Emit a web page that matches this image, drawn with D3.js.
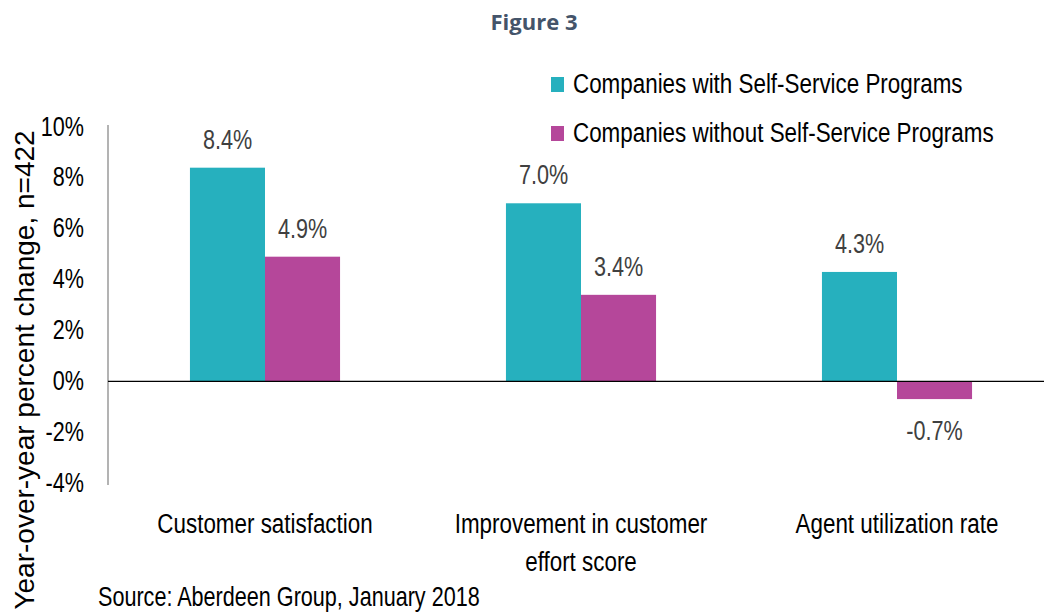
<!DOCTYPE html>
<html>
<head>
<meta charset="utf-8">
<script src="https://d3js.org/d3.v7.min.js"></script>
<style>
  body { margin: 0; background: #fff; }
  text { font-family: "Liberation Sans", Arial, sans-serif; }
</style>
</head>
<body>
<script>
var categories = ["Customer satisfaction", "Improvement in customer\neffort score", "Agent utilization rate"];
var seriesNames = ["Companies with Self-Service Programs", "Companies without Self-Service Programs"];
var withSS = [8.4, 7.0, 4.3];
var withoutSS = [4.9, 3.4, -0.7];
var yTicks = [10, 8, 6, 4, 2, 0, -2, -4];
var colors = ["#26b0be", "#b5479a"];

var W = 1044, H = 612;
var NARROW = "scale(0.8,1)";   // fake Arial Narrow
var svg = d3.select("body").append("svg").attr("width", W).attr("height", H);

var x0 = d3.scaleBand().domain(categories).range([107, 1055]).paddingInner(0.525).paddingOuter(0.2625);
var x1 = d3.scaleBand().domain([0, 1]).range([0, x0.bandwidth()]);
var y = d3.scaleLinear().domain([-4, 10]).range([483, 127]);

function narrowText(parent, x, yy, size, anchor, str, fill) {
  var g = parent.append("g").attr("transform", "translate(" + x + "," + yy + ")");
  return g.append("text").attr("transform", NARROW).attr("text-anchor", anchor || "start")
    .style("font-size", size + "px").attr("fill", fill || "#000").text(str);
}

// title
svg.append("text").attr("x", 534).attr("y", 30).attr("text-anchor", "middle")
  .style("font-family", "'Open Sans', sans-serif").style("font-weight", "bold")
  .style("font-size", "22px").attr("fill", "#44546a").text("Figure 3");

// y axis
var yAxis = svg.append("g").attr("transform", "translate(108,0)")
  .call(d3.axisLeft(y).tickValues(yTicks).tickSize(0).tickPadding(30).tickFormat(function (d) { return d + "%"; }));
yAxis.select(".domain").attr("stroke", "#808080").attr("stroke-width", 1.2).attr("d", "M0," + (y(10) - 2) + "V" + (y(-4) + 2));
yAxis.selectAll("text").attr("transform", NARROW).style("font-size", "27px").attr("fill", "#000")
  .style("font-family", "'Liberation Sans', Arial, sans-serif").attr("dy", "0.3em");

// y title
svg.append("text").attr("transform", "translate(34,370) rotate(-90)").attr("text-anchor", "middle")
  .style("font-size", "28px").attr("fill", "#000").text("Year-over-year percent change, n=422");

// bars
var data = categories.map(function (c, i) { return { cat: c, vals: [withSS[i], withoutSS[i]] }; });
var groups = svg.selectAll(".grp").data(data).enter().append("g")
  .attr("transform", function (d) { return "translate(" + x0(d.cat) + ",0)"; });
groups.selectAll("rect").data(function (d) { return d.vals; }).enter().append("rect")
  .attr("x", function (d, i) { return x1(i); })
  .attr("width", x1.bandwidth())
  .attr("y", function (d) { return y(Math.max(0, d)); })
  .attr("height", function (d) { return Math.abs(y(d) - y(0)); })
  .attr("fill", function (d, i) { return colors[i]; });
groups.each(function (d) {
  var g = d3.select(this);
  d.vals.forEach(function (v, i) {
    narrowText(g, x1(i) + x1.bandwidth() / 2, v >= 0 ? y(v) - 19 : y(v) + 41, 27, "middle", v.toFixed(1) + "%", "#404040");
  });
  d.cat.split("\n").forEach(function (line, i) {
    narrowText(g, x0.bandwidth() / 2, 533 + i * 38, 28, "middle", line);
  });
});

// zero line
svg.append("line").attr("x1", 108).attr("x2", W).attr("y1", y(0)).attr("y2", y(0))
  .attr("stroke", "#000").attr("stroke-width", 1.3);

// legend
seriesNames.forEach(function (name, i) {
  var ly = 92 + i * 49;
  svg.append("rect").attr("x", 551).attr("y", ly - 15).attr("width", 13).attr("height", 15).attr("fill", colors[i]);
  narrowText(svg, 573, ly + 1, 28, "start", name);
});

// source
narrowText(svg, 98, 606, 27, "start", "Source: Aberdeen Group, January 2018");
</script>
</body>
</html>
